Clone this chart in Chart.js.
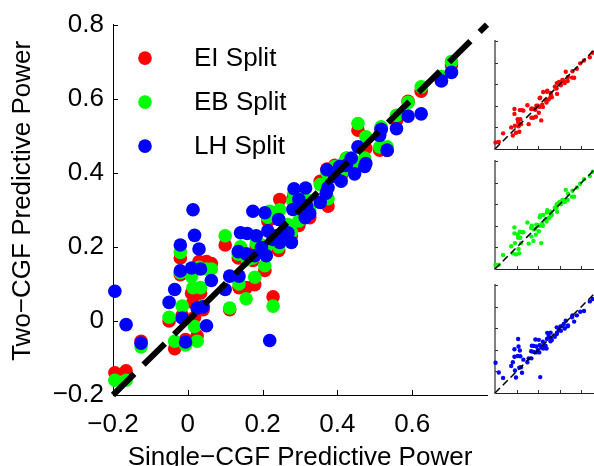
<!DOCTYPE html>
<html><head><meta charset="utf-8">
<script src="https://cdn.jsdelivr.net/npm/chart.js@4.4.1/dist/chart.umd.min.js"></script>
<style>
html,body{margin:0;padding:0;background:#fff;}
body{width:594px;height:466px;overflow:hidden;position:relative;}
.box{position:absolute;}
</style></head><body>
<div class="box" style="left:0;top:0;width:500px;height:466px"><canvas id="mainChart"></canvas></div>
<div class="box" style="left:490px;top:31px;width:120px;height:128px"><canvas id="inset0"></canvas></div>
<div class="box" style="left:490px;top:151px;width:120px;height:128px"><canvas id="inset1"></canvas></div>
<div class="box" style="left:490px;top:275px;width:120px;height:128px"><canvas id="inset2"></canvas></div>
<script>
// ---- data ----
const xSingle = [-0.195,-0.165,-0.125,-0.05,-0.035,-0.02,-0.02,-0.015,-0.006,0.01,0.014,0.018,0.025,0.03,0.034,0.041,0.05,0.063,0.10,0.112,0.135,0.137,0.141,0.156,0.159,0.174,0.179,0.183,0.197,0.206,0.21,0.214,0.219,0.228,0.237,0.243,0.246,0.268,0.277,0.281,0.284,0.297,0.314,0.315,0.318,0.326,0.354,0.37,0.372,0.375,0.393,0.406,0.41,0.424,0.437,0.446,0.455,0.473,0.476,0.513,0.517,0.533,0.558,0.589,0.624,0.678,0.705];
const yEI = [-0.14,-0.135,-0.055,0.0,-0.075,0.17,0.125,0.015,-0.05,0.075,0.05,0.01,-0.04,0.16,0.075,0.03,0.16,0.155,0.205,0.03,0.17,0.09,0.175,0.09,0.17,0.163,0.098,0.2,0.2,0.136,0.19,0.27,0.274,0.065,0.21,0.19,0.328,0.255,0.23,0.33,0.34,0.258,0.28,0.32,0.30,0.279,0.377,0.36,0.41,0.31,0.42,0.41,0.39,0.439,0.43,0.41,0.515,0.43,0.466,0.461,0.52,0.46,0.542,0.593,0.62,0.65,0.691];
const yEB = [-0.16,-0.16,-0.07,0.01,-0.055,0.185,0.13,0.04,-0.065,0.12,0.09,-0.015,-0.055,0.145,0.09,0.04,0.14,0.14,0.23,0.035,0.18,0.10,0.2,0.06,0.165,0.17,0.118,0.21,0.205,0.149,0.2,0.28,0.296,0.04,0.22,0.2,0.30,0.26,0.24,0.323,0.345,0.27,0.29,0.33,0.31,0.30,0.368,0.37,0.40,0.33,0.417,0.42,0.40,0.44,0.44,0.42,0.533,0.44,0.497,0.47,0.524,0.47,0.555,0.59,0.632,0.66,0.70];
const yLH = [0.08,-0.01,-0.06,0.05,0.085,0.205,0.135,0.008,-0.057,0.143,0.30,0.231,0.035,0.194,0.14,0.038,-0.013,0.109,0.085,0.121,0.187,0.121,0.238,0.181,0.236,0.296,0.176,0.23,0.198,0.292,0.176,0.243,-0.053,0.22,0.23,0.274,0.212,0.238,0.212,0.301,0.357,0.328,0.279,0.359,0.31,0.29,0.32,0.345,0.408,0.36,0.39,0.417,0.377,0.42,0.439,0.397,0.47,0.417,0.425,0.501,0.517,0.461,0.519,0.553,0.559,0.648,0.671];
const seriesLabels = ['EI Split','EB Split','LH Split'];
const seriesColors = ['#ff0000','#00ff00','#0000ff'];
const diagonal = [-0.2, 0.8];
const xTickValues = [-0.2, 0, 0.2, 0.4, 0.6];
const yTickValues = [-0.2, 0, 0.2, 0.4, 0.6, 0.8];
const xTitle = 'Single\u2212CGF Predictive Power';
const yTitle = 'Two\u2212CGF Predictive Power';

// ---- helpers ----
const FONT = 'Liberation Sans, Arial, Helvetica, sans-serif';
const seriesY = [yEI, yEB, yLH];
const pts = ys => xSingle.map((x, i) => ({x: x, y: ys[i]}));
const diagPts = () => diagonal.map(v => ({x: v, y: v}));
const fmt = v => (v < 0 ? '\u2212' : '') + String(+Math.abs(v).toFixed(1));

const inwardTicks = {
  id: 'inwardTicks',
  afterDraw(chart, args, o) {
    const {ctx, chartArea: {left, bottom}} = chart;
    const xs = chart.scales.x, ys = chart.scales.y;
    ctx.save();
    ctx.strokeStyle = o.color; ctx.lineWidth = o.width;
    ctx.beginPath();
    xs.ticks.forEach(t => {
      const p = Math.round(xs.getPixelForValue(t.value)) + 0.5;
      if (Math.abs(p - left) < 2) return;
      ctx.moveTo(p, bottom); ctx.lineTo(p, bottom - o.len);
    });
    ys.ticks.forEach(t => {
      const p = Math.round(ys.getPixelForValue(t.value)) + 0.5;
      if (Math.abs(p - bottom) < 2) return;
      ctx.moveTo(left, p); ctx.lineTo(left + o.len, p);
    });
    ctx.stroke(); ctx.restore();
  }
};

const markerLegend = {
  id: 'markerLegend',
  afterDraw(chart, args, o) {
    if (!o.show) return;
    const {ctx, chartArea: {left, top}} = chart;
    ctx.save();
    ctx.font = '26px ' + FONT;
    ctx.textBaseline = 'middle'; ctx.textAlign = 'left';
    seriesLabels.forEach((lab, i) => {
      const y = top + 33.5 + i * 44;
      ctx.fillStyle = seriesColors[i];
      ctx.beginPath(); ctx.arc(left + 32, y, 6.8, 0, Math.PI * 2); ctx.fill();
      ctx.fillStyle = '#000';
      ctx.fillText(lab, left + 81, y + 0.5);
    });
    // vertical axis title, centred slightly above the plot centre as in the original
    ctx.save();
    ctx.translate(23, (chart.chartArea.top + chart.chartArea.bottom) / 2 - 9);
    ctx.rotate(-Math.PI / 2);
    ctx.textAlign = 'center'; ctx.textBaseline = 'middle';
    ctx.fillText(yTitle, 0, 0);
    ctx.restore();
    ctx.restore();
  }
};

function makeDatasets(which, radius, lineW, dash) {
  const ds = [{
    type: 'line', label: 'diag', data: diagPts(), borderColor: '#000', borderWidth: lineW,
    borderDash: dash, borderCapStyle: 'butt', pointRadius: 0, fill: false, order: 0, clip: false, showLine: true
  }];
  which.forEach(i => {
    ds.push({
      label: seriesLabels[i], data: pts(seriesY[i]), backgroundColor: seriesColors[i],
      borderWidth: 0, pointRadius: radius, pointHoverRadius: radius, order: 3 - i, clip: false
    });
  });
  return ds;
}

// ---- main chart ----
new Chart(document.getElementById('mainChart'), {
  type: 'scatter',
  data: {datasets: makeDatasets([0, 1, 2], 6.8, 6, [30, 13])},
  options: {
    responsive: true, maintainAspectRatio: false, animation: false, devicePixelRatio: 1,
    layout: {padding: {top: 20, right: 13, left: 0, bottom: 0}},
    plugins: {legend: {display: false}, tooltip: {enabled: false},
      inwardTicks: {color: '#000', width: 1, len: 5}, markerLegend: {show: true}},
    scales: {
      x: {
        type: 'linear', min: -0.2, max: 0.8,
        afterBuildTicks: s => { s.ticks = xTickValues.map(v => ({value: v})); },
        afterFit: s => { s.height = 71; },
        grid: {display: false, drawTicks: false},
        border: {display: true, color: '#000', width: 1},
        ticks: {font: {family: FONT, size: 26}, color: '#000', padding: 14, callback: v => fmt(v), maxRotation: 0, autoSkip: false},
        title: {display: true, text: xTitle, color: '#000', padding: 0, font: {family: FONT, size: 26, lineHeight: 0.65}}
      },
      y: {
        type: 'linear', min: -0.2, max: 0.8,
        afterBuildTicks: s => { s.ticks = yTickValues.map(v => ({value: v})); },
        afterFit: s => { s.width = 113; },
        grid: {display: false, drawTicks: false},
        border: {display: true, color: '#000', width: 1},
        ticks: {font: {family: FONT, size: 26}, color: '#000', padding: 9, callback: v => fmt(v), autoSkip: false},
        title: {display: false}
      }
    }
  },
  plugins: [inwardTicks, markerLegend]
});

// ---- insets ----
[0, 1, 2].forEach(i => {
  new Chart(document.getElementById('inset' + i), {
    type: 'scatter',
    data: {datasets: makeDatasets([i], 2.2, 1.5, [7, 4])},
    options: {
      responsive: true, maintainAspectRatio: false, animation: false, devicePixelRatio: 1,
      layout: {padding: {top: 10, right: 7, left: 5, bottom: 10}},
      plugins: {legend: {display: false}, tooltip: {enabled: false},
        inwardTicks: {color: '#333', width: 1, len: 3}, markerLegend: {show: false}},
      scales: {
        x: {
          type: 'linear', min: -0.2, max: 0.8,
          afterBuildTicks: s => { s.ticks = xTickValues.concat([0.8]).map(v => ({value: v})); },
          afterFit: s => { s.height = 0; },
          grid: {display: false, drawTicks: false},
          border: {display: true, color: '#222', width: 1},
          ticks: {display: false}
        },
        y: {
          type: 'linear', min: -0.2, max: 0.8,
          afterBuildTicks: s => { s.ticks = yTickValues.map(v => ({value: v})); },
          afterFit: s => { s.width = 0; },
          grid: {display: false, drawTicks: false},
          border: {display: true, color: '#808080', width: 2},
          ticks: {display: false}
        }
      }
    },
    plugins: [inwardTicks, markerLegend]
  });
});
</script>
</body></html>
